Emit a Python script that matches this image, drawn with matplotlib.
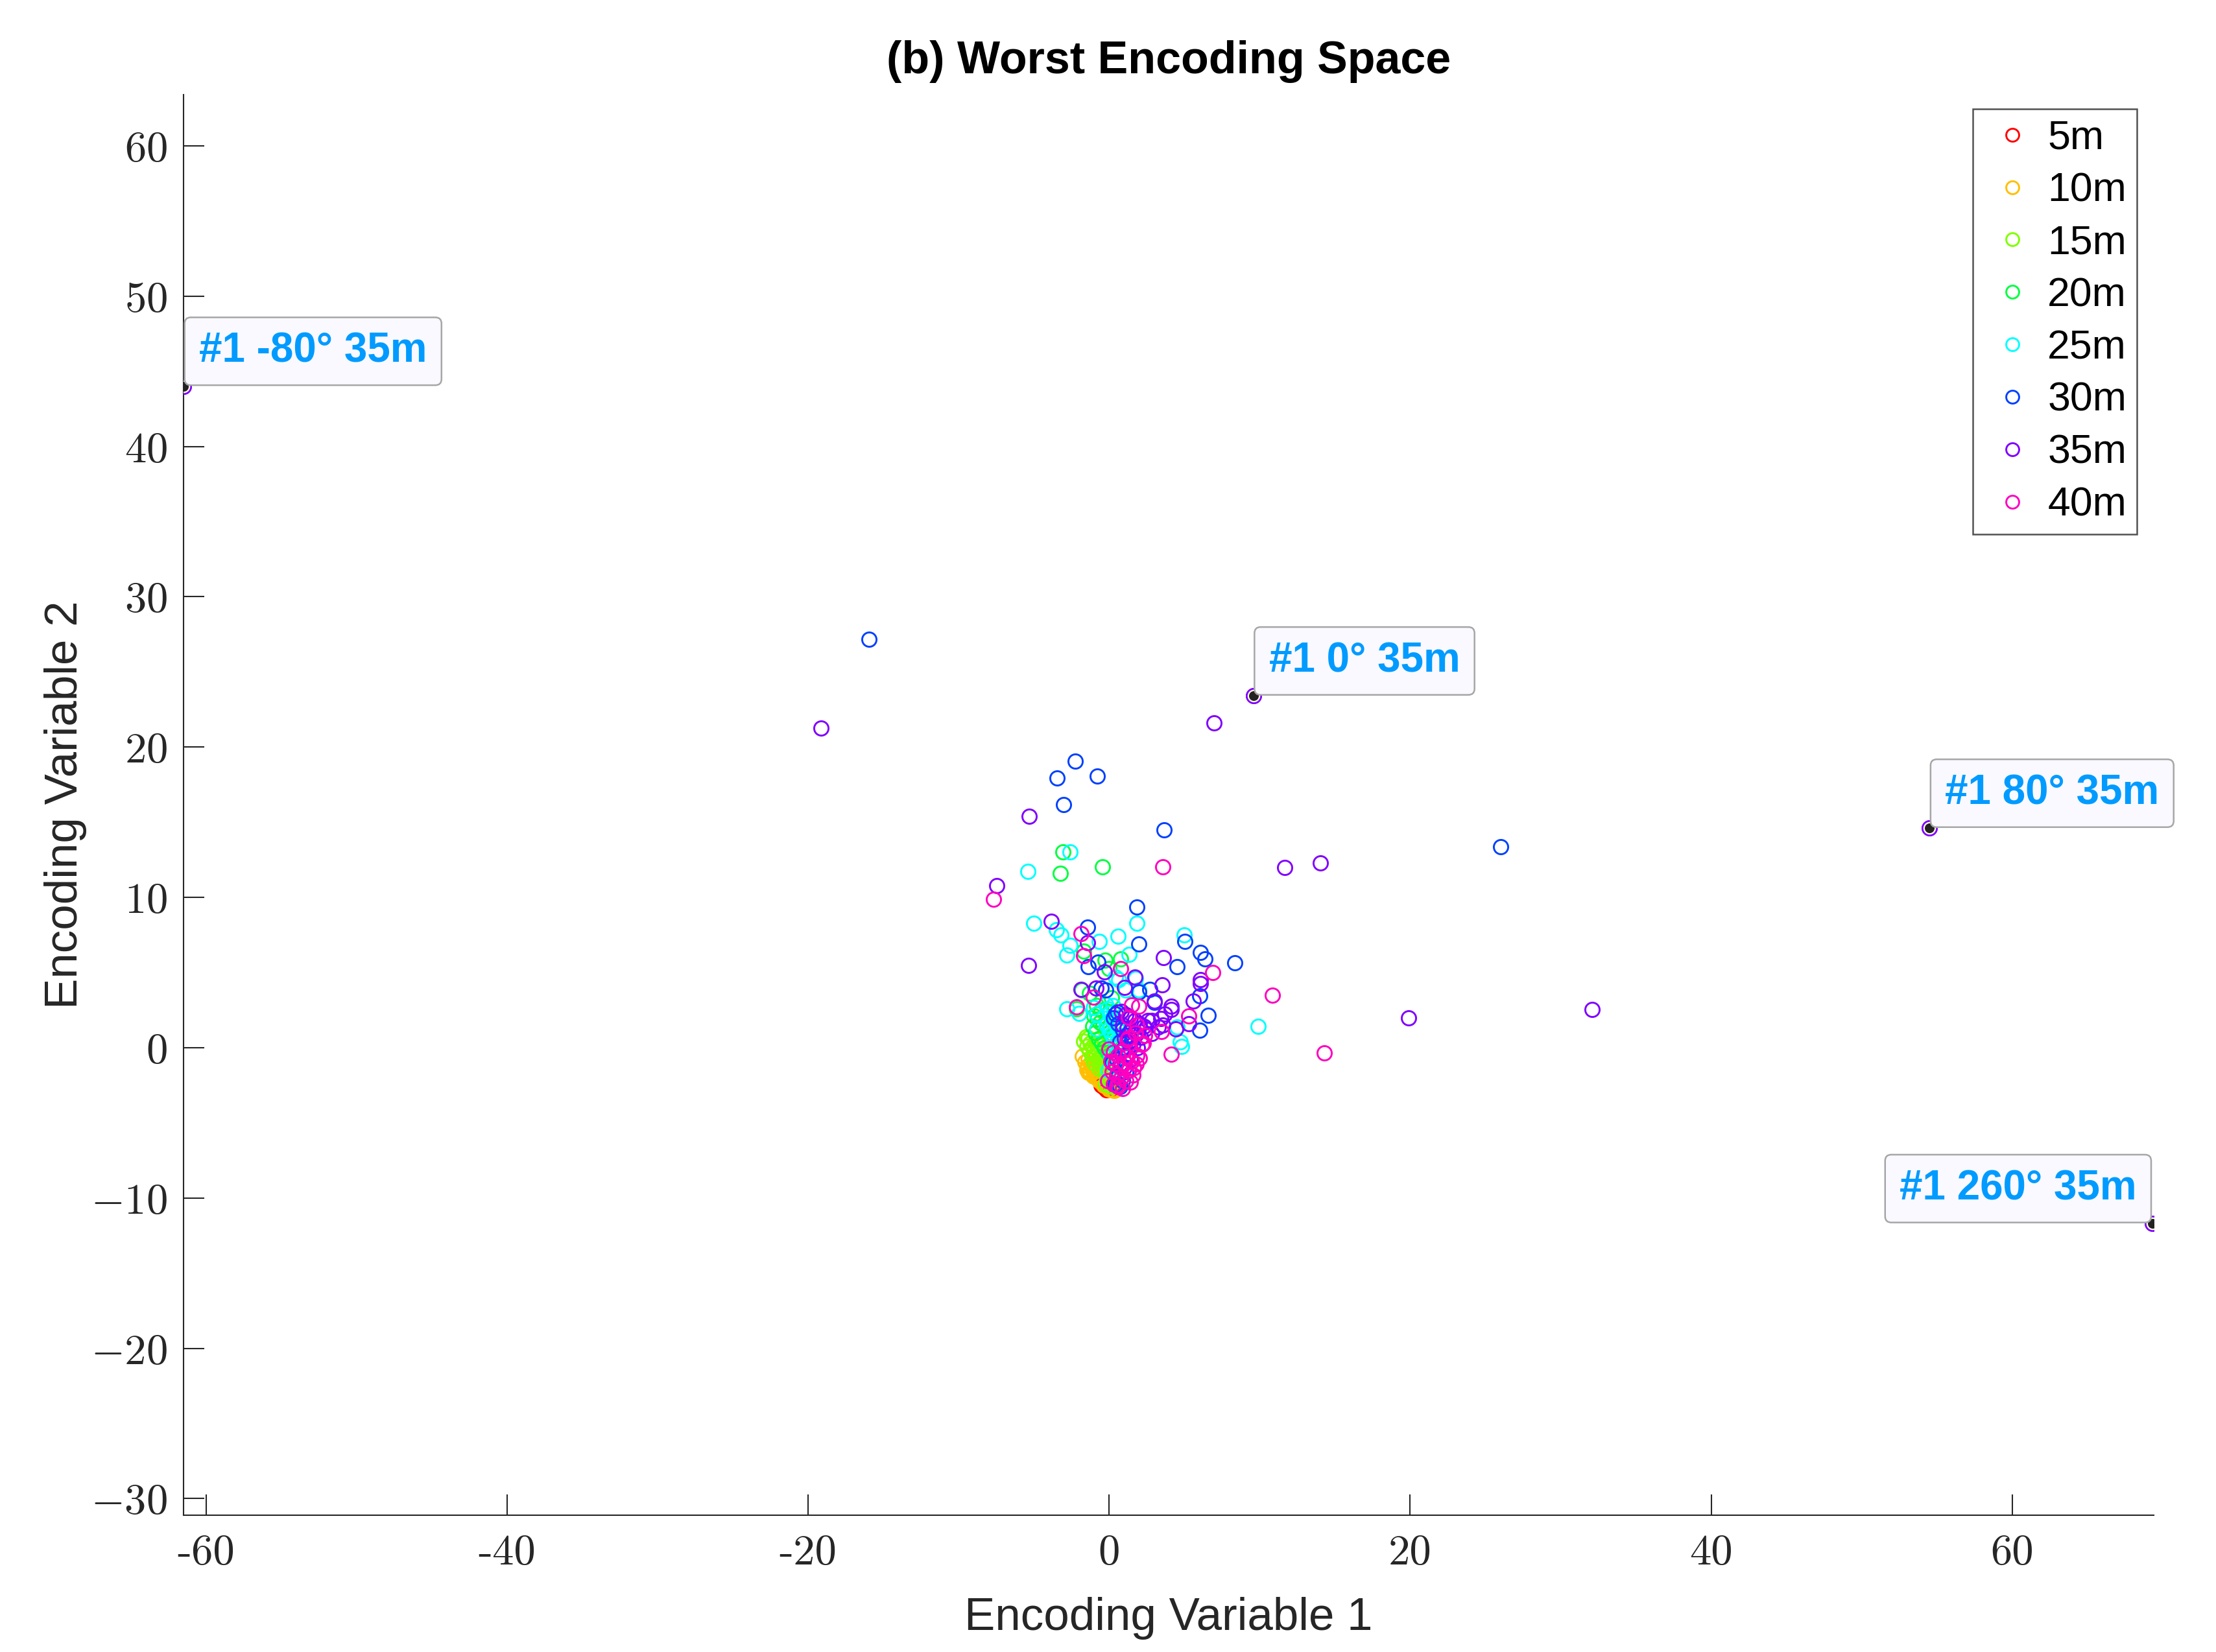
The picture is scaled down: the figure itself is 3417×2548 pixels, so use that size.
import matplotlib
matplotlib.use('Agg')
import matplotlib.pyplot as plt

plt.rcParams['font.family'] = 'Liberation Sans'
plt.rcParams['mathtext.fontset'] = 'cm'

# series (distance) labels and hsv(8) colours
series_labels = ['5m', '10m', '15m', '20m', '25m', '30m', '35m', '40m']
series_colors = ['#ff0000', '#ffbf00', '#80ff00', '#00ff40',
                 '#00ffff', '#0040ff', '#8000ff', '#ff00bf']

# values
x_5m = [-0.75, -0.62, -0.55, -0.41, -0.33, -0.22, -0.12, -0.05, 0.06, 0.14,
        0.22, -0.68, -0.47, -0.28, -0.09, 0.03, -0.36, -0.18, 0.1, -0.52]
y_5m = [-2.05, -2.22, -1.9, -2.38, -2.15, -2.55, -2.4, -2.68, -2.6, -2.78,
        -2.52, -1.75, -2.0, -2.3, -2.2, -2.45, -2.62, -2.8, -2.35, -2.5]

x_10m = [-1.78, -1.6, -1.45, -1.38, -1.3, -1.22, -1.12, -1.0, -0.9, -0.8,
         -0.7, -0.6, -1.5, -1.25, -1.05, -0.85, -0.65, -0.5, -0.35, -0.2,
         0.0, 0.2, 0.35, -1.4, -0.95]
y_10m = [-0.57, -0.95, -1.2, -0.8, -1.5, -1.05, -1.35, -1.6, -1.25, -1.75,
         -1.9, -2.1, -1.45, -1.7, -1.9, -2.0, -2.2, -2.35, -2.5, -2.6,
         -2.75, -2.8, -2.85, -1.65, -1.4]

x_15m = [-1.54, -1.39, -1.7, -1.25, -1.48, -1.1, -1.3, -1.04, -0.95, -0.89,
         -0.8, -0.7, -0.6, -0.5, -0.42, -0.3, -0.2, -0.1, 0.05, 0.2,
         -1.15, -0.75, -0.55, -0.35, -1.0, -0.65, -0.25, 0.1]
y_15m = [0.73, 0.66, 0.45, 0.3, 0.1, 0.08, -0.2, -0.3, -0.5, 0.5,
         -0.1, -0.7, -0.93, -1.2, -0.4, -1.5, -1.8, -2.1, -2.3, -2.6,
         -0.65, 0.2, -0.6, -1.0, -1.0, -1.4, -2.4, -2.55]

x_20m = [-3.08, -3.23, -0.44, -1.68, -0.29, 0.76, -0.03, -1.32, 0.15, -2.18,
         -1.82, -1.0, -0.8, -0.6, -0.4, -0.2, 0.0, 0.2, -1.1, -0.9,
         -0.7, -0.5, -0.3, -0.1, 0.1, 0.3, -0.55, -0.85]
y_20m = [13.03, 11.62, 12.04, 6.41, 5.84, 5.91, 5.26, 3.6, 3.3, 2.6,
         3.85, 2.1, 1.9, 1.7, 1.5, 1.3, 1.0, 0.7, 1.4, 1.0,
         0.6, 0.3, 0.0, -0.3, -0.6, -0.9, 2.5, 2.8]

x_25m = [-2.59, -5.38, -5.02, -3.5, -3.22, -0.67, 0.61, 1.84, -2.62, -2.81,
         1.33, 4.97, 0.62, 1.77, -2.83, -2.0, -1.04, -0.82, 4.53, 4.71,
         4.8, 9.89, 0.26, 1.12, 1.98, 0.4, -0.82,
         -0.25, -0.1, 0.05, 0.2, 0.35, 0.5, 0.65, 0.8, -0.2, 0.0,
         0.15, 0.3, 0.45, 0.6, 0.7, 0.1, 0.25, 0.4, -0.05]
y_25m = [13.03, 11.71, 8.28, 7.85, 7.5, 7.08, 7.42, 8.3, 6.82, 6.15,
         6.2, 7.5, 4.54, 4.61, 2.6, 2.28, 2.67, 2.24, 1.37, 0.37,
         0.1, 1.4, 2.81, 3.82, 3.82, 4.68, 1.23,
         2.9, 2.6, 2.3, 2.0, 1.7, 1.4, 1.1, 0.8, 1.5, 1.2,
         0.9, 0.6, 0.3, 0.0, -0.3, -0.6, -0.9, -1.2, -1.5]

x_30m = [-15.96, -2.26, -3.45, -0.77, -3.01, 3.65, 26.0, 1.84, -1.44, 1.98,
         5.03, -0.75, -1.39, 4.49, 6.07, 6.36, 8.36, -0.53, -0.25, 1.98,
         2.7, 2.99, 6.0, 6.58, 6.0, 0.4, 0.55, 0.3,
         0.6, 0.9, 1.2, 0.7, 1.0, 1.3, 0.5, 0.8, 1.1, 0.6, 0.9, 0.4,
         0.7, 1.5, 0.2]
y_30m = [27.19, 19.05, 17.94, 18.08, 16.16, 14.5, 13.36, 9.36, 8.04, 6.91,
         7.06, 5.69, 5.4, 5.37, 6.34, 5.91, 5.64, 3.97, 3.82, 3.72,
         3.89, 3.03, 3.46, 2.17, 1.16, 2.24, 2.38, 2.0,
         1.6, 1.2, 0.8, 0.4, 0.0, -0.4, -0.8, -1.2, -1.6, -1.9, -2.2, -2.4,
         -2.6, 0.5, -1.0]

x_35m = [-61.5, 9.58, 54.5, 69.3, -19.15, 6.97, -5.32, 11.65, 14.03, -7.45,
         -3.84, -1.44, -5.35, 3.6, 3.53, 1.69, 1.0, -1.87, -0.86, -0.32,
         2.99, 2.84, 3.56, 5.57, 6.07, 6.07, 5.28, 19.9, 32.1, 4.13,
         3.71, 3.27, 2.56, 3.42, 2.84, 2.41, 4.14, 4.42,
         0.8, 1.1, 1.4, 1.7, 2.0, 2.3, 0.9, 1.2, 1.5, 1.8, 2.1, 1.0,
         1.3, 1.6, 1.9, 0.8, 1.1, 1.4, 0.7, 1.0, 1.3]
y_35m = [44.0, 23.4, 14.6, -11.7, 21.26, 21.62, 15.39, 12.0, 12.3, 10.8,
         8.42, 6.99, 5.46, 6.0, 4.18, 4.68, 3.99, 3.89, 3.97, 5.04,
         3.1, 1.81, 1.52, 3.1, 4.54, 4.25, 1.59, 1.98, 2.54, 2.74,
         2.24, 1.37, 1.8, 1.95, 0.94, 1.23, 2.53, 1.23,
         2.4, 2.2, 2.0, 1.8, 1.6, 1.4, 1.5, 1.3, 1.1, 0.9, 0.7, 0.6,
         0.4, 0.2, 0.0, -0.2, -0.5, -0.8, -1.1, -1.3, -1.5]

x_40m = [3.56, -7.69, -1.87, -1.68, 0.76, 6.86, -1.04, -2.18, 10.85, 14.3,
         4.14, 5.3, 3.49, 1.51, 1.95, 1.26, 1.84, 2.34, 1.19, 2.2,
         1.76, 2.27, 1.26, 1.62, 1.84,
         0.0, 0.3, 0.6, 0.9, 1.2, 1.5, 1.8, 2.0, 0.1, 0.4,
         0.7, 1.0, 1.3, 1.6, 0.2, 0.5, 0.8, 1.1, 1.4, 0.3,
         0.6, 0.9, -0.1, 0.5]
y_40m = [12.04, 9.87, 7.59, 6.12, 5.26, 4.98, 3.35, 2.7, 3.5, -0.35,
         -0.45, 2.1, 1.09, 2.86, 2.77, 2.02, 1.52, 0.8, 0.51, 0.22,
         1.01, 0.3, 0.66, -1.36, -0.5,
         -0.1, -0.3, -0.5, -0.2, -0.6, -0.9, -1.1, -0.7, -0.9, -1.1,
         -1.3, -1.0, -1.5, -1.8, -1.6, -1.8, -2.0, -2.2, -2.3, -2.4,
         -2.6, -2.7, -2.2, -2.5]

series_x = [x_5m, x_10m, x_15m, x_20m, x_25m, x_30m, x_35m, x_40m]
series_y = [y_5m, y_10m, y_15m, y_20m, y_25m, y_30m, y_35m, y_40m]

# data tips (all on the 35m series)
datatip_text = ['#1 -80° 35m', '#1 0° 35m', '#1 80° 35m', '#1 260° 35m']
datatip_x = [-61.5, 9.58, 54.5, 69.3]
datatip_y = [44.0, 23.4, 14.6, -11.7]

xtick_values = [-60, -40, -20, 0, 20, 40, 60]
xtick_labels = ['-60', '-40', '-20', '0', '20', '40', '60']
ytick_values = [-30, -20, -10, 0, 10, 20, 30, 40, 50, 60]
ytick_labels = ['$-30$', '$-20$', '$-10$', '$0$', '$10$', '$20$',
                '$30$', '$40$', '$50$', '$60$']

W, H = 3417, 2548
fig = plt.figure(figsize=(W / 300, H / 300), dpi=300)
ax = fig.add_axes([283 / W, 1 - 2337 / H, (3321 - 283) / W, (2337 - 146) / H])

for xs, ys, lab, col in zip(series_x, series_y, series_labels, series_colors):
    ax.plot(xs, ys, linestyle='none', marker='o', markersize=5.3,
            markerfacecolor='none', markeredgecolor=col,
            markeredgewidth=0.7, label=lab)

# data tip markers and boxes
ax.plot(datatip_x, datatip_y, linestyle='none', marker='o', markersize=5.3,
        markerfacecolor='#fffbe4', markeredgecolor=series_colors[6],
        markeredgewidth=0.6, zorder=5)
ax.plot(datatip_x, datatip_y, linestyle='none', marker='o', markersize=2.6,
        markerfacecolor='#222222', markeredgecolor='#222222', zorder=6)

pad = 0.35
fs_tip = 15.3
off = pad * fs_tip + 0.4
for i, (t, px, py) in enumerate(zip(datatip_text, datatip_x, datatip_y)):
    left = i == 3
    ax.annotate(t, xy=(px, py), xytext=(-off if left else off, off),
                textcoords='offset points',
                ha='right' if left else 'left', va='bottom',
                fontsize=fs_tip, fontweight='bold', color='#009bff',
                bbox=dict(boxstyle=f'round,pad={pad},rounding_size=0.15',
                          facecolor='#f9f9ff', edgecolor='#a6a6a6',
                          linewidth=0.6),
                zorder=7, annotation_clip=False)

all_x = [v for xs in series_x for v in xs]
ax.set_xlim(min(all_x), max(all_x) + 0.1)
ax.set_ylim(-31.1, 63.4)

ax.spines['top'].set_visible(False)
ax.spines['right'].set_visible(False)
for s in ['left', 'bottom']:
    ax.spines[s].set_color('#262626')
    ax.spines[s].set_linewidth(0.5)

ax.set_xticks(xtick_values)
ax.set_xticklabels(xtick_labels, fontfamily='cmr10', fontsize=16)
ax.set_yticks(ytick_values)
ax.set_yticklabels(ytick_labels, fontsize=16)
ax.tick_params(direction='in', length=7.6, width=0.5, colors='#262626')
ax.tick_params(axis='x', pad=7)
ax.tick_params(axis='y', pad=6)

ax.set_xlabel('Encoding Variable 1', fontsize=17, labelpad=9, color='#262626')
ax.set_ylabel('Encoding Variable 2', fontsize=17, labelpad=1.5, color='#262626')
ax.set_title('(b) Worst Encoding Space', fontsize=16.8, fontweight='bold', pad=8)

leg = ax.legend(loc='upper right', bbox_to_anchor=(0.9914, 0.99),
                borderaxespad=0, fontsize=15, labelspacing=0.35,
                handlelength=1.45, handletextpad=0.15, borderpad=0.25,
                fancybox=False, markerscale=0.9)
leg.get_frame().set_edgecolor('#262626')
leg.get_frame().set_linewidth(0.6)

fig.savefig('out.png', dpi=300, facecolor='white')
